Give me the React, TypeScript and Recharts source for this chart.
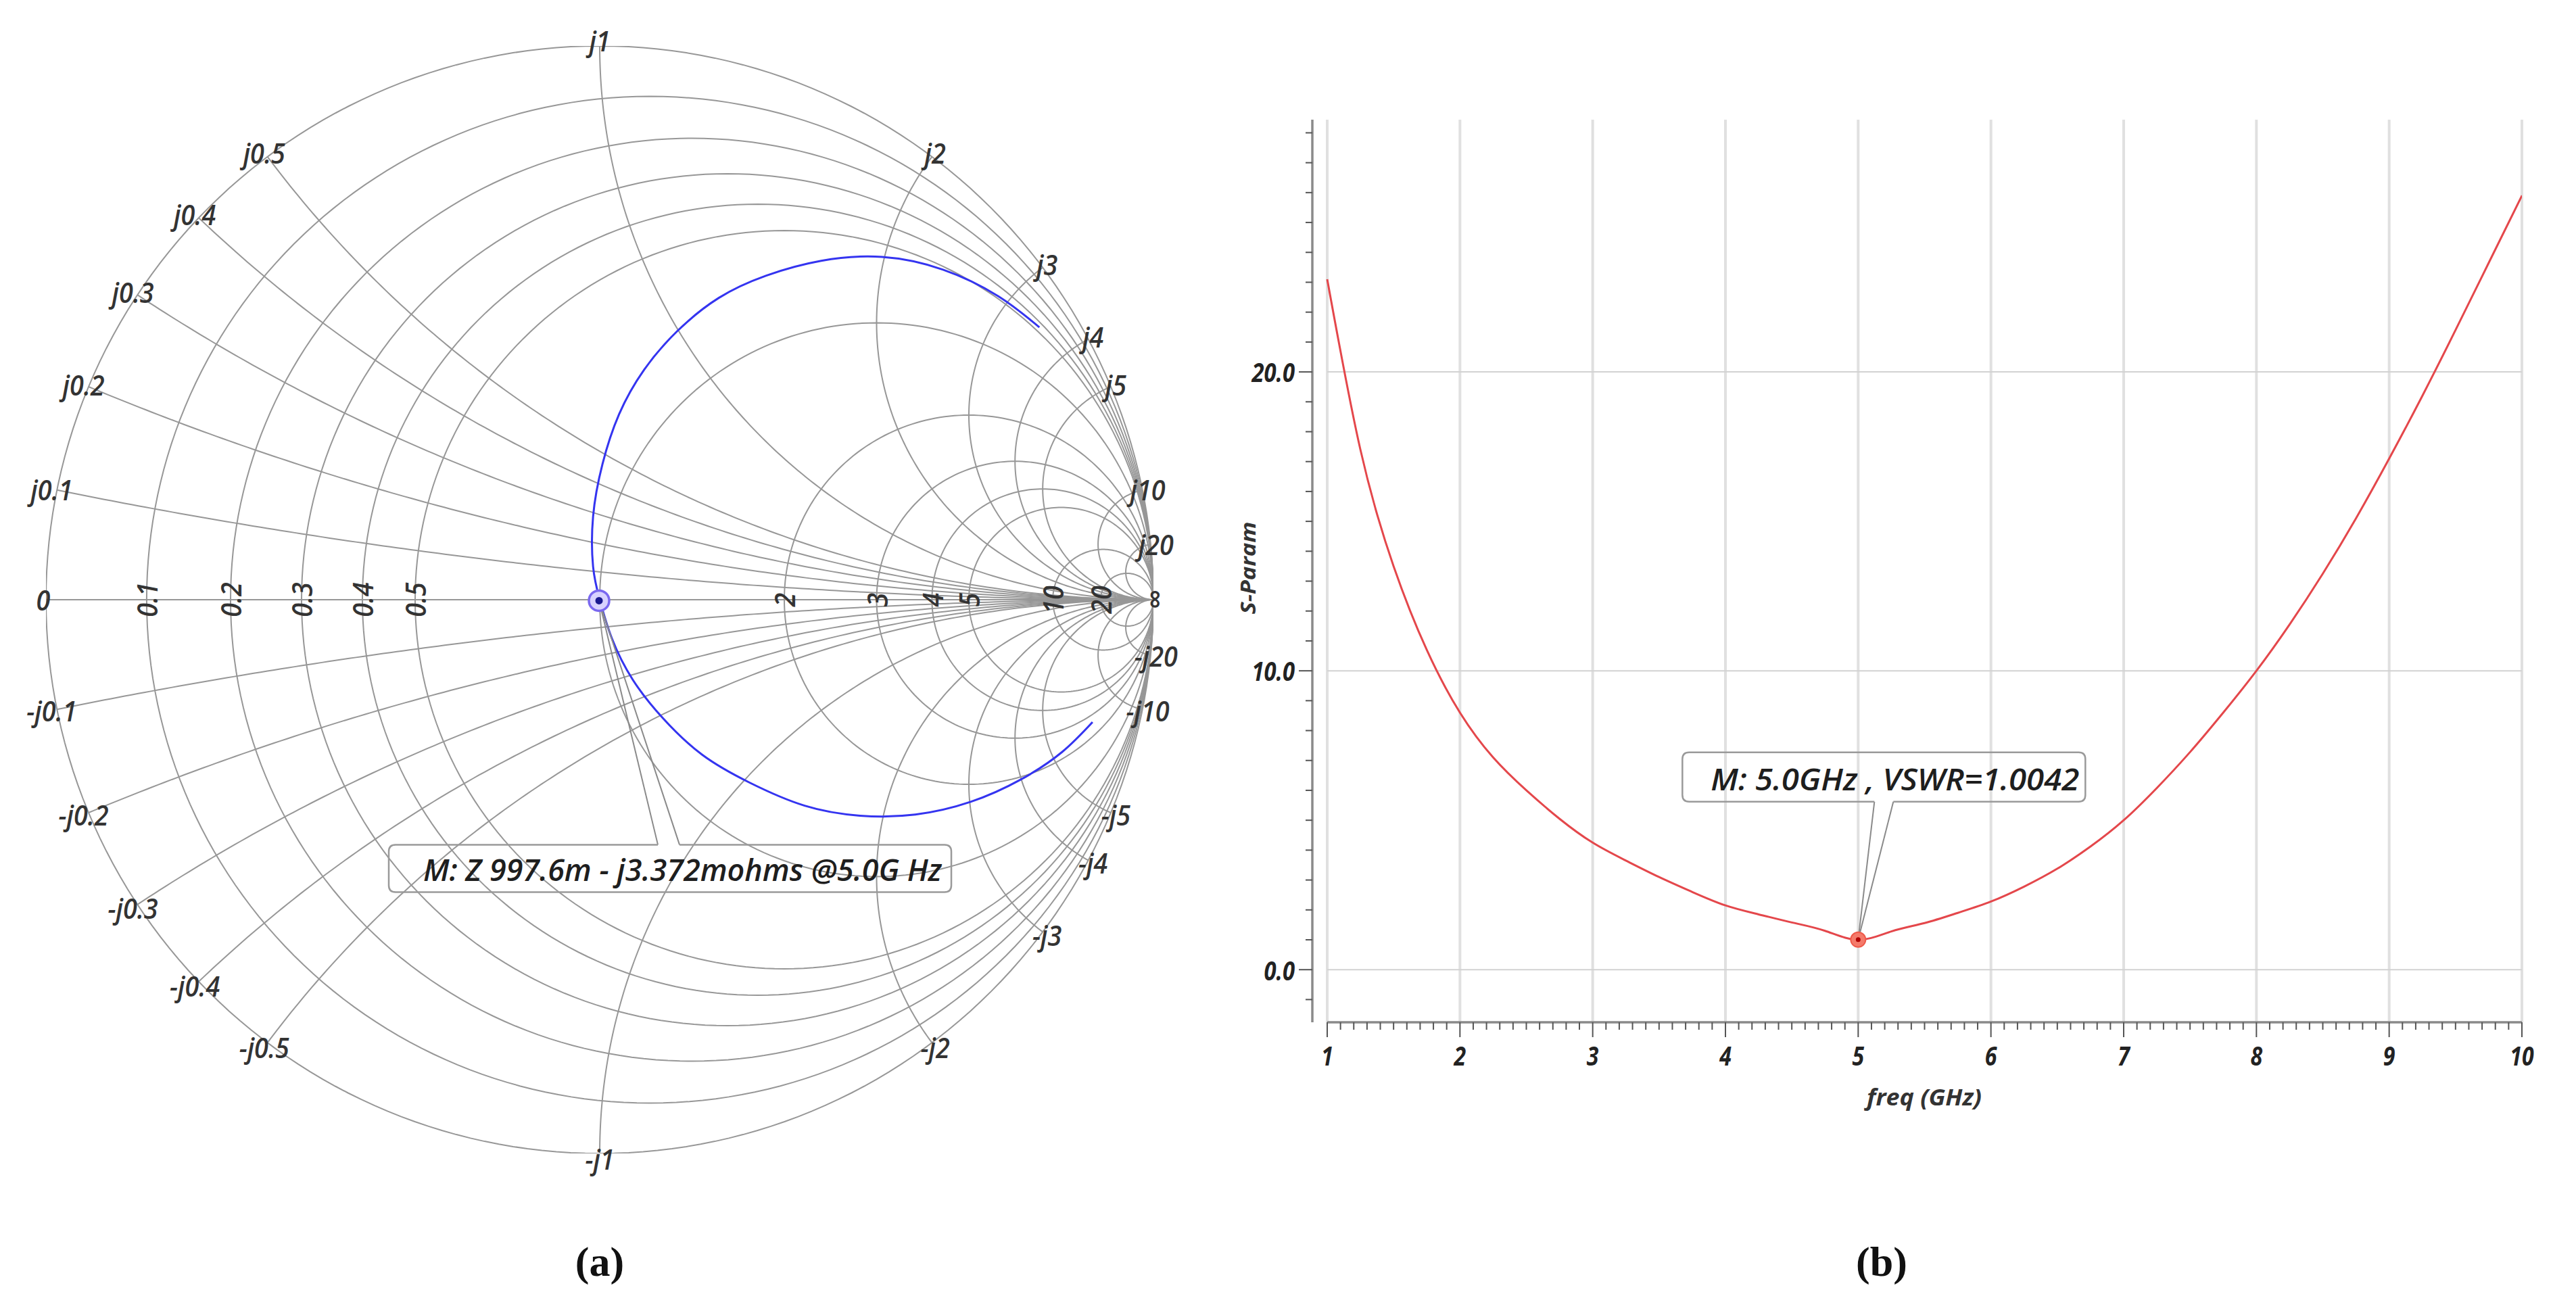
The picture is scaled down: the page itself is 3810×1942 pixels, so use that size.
import React from 'react'
import { LineChart, Line, XAxis, YAxis, ReferenceLine, ReferenceDot } from 'recharts'

// ---------- (a) Smith chart ----------
const RESISTANCE = [0, 0.1, 0.2, 0.3, 0.4, 0.5, 1, 2, 3, 4, 5, 10, 20]
const REACTANCE = [0.1, 0.2, 0.3, 0.4, 0.5, 1, 2, 3, 4, 5, 10, 20]
const RESISTANCE_LABELS = [0.1, 0.2, 0.3, 0.4, 0.5, 2, 3, 4, 5, 10, 20]

// impedance trace, as reflection coefficient (re, im)
const TRACE_RE = [0.794, 0.72, 0.62, 0.51, 0.40, 0.30, 0.215, 0.14, 0.08, 0.035, 0.005, -0.012, -0.012, 0, 0.022, 0.06, 0.115, 0.185, 0.27, 0.37, 0.47, 0.57, 0.67, 0.76, 0.835, 0.89]
const TRACE_IM = [0.492, 0.548, 0.596, 0.619, 0.612, 0.585, 0.545, 0.485, 0.415, 0.335, 0.245, 0.15, 0.06, 0, -0.07, -0.145, -0.215, -0.28, -0.33, -0.372, -0.39, -0.388, -0.365, -0.325, -0.275, -0.221]

const MARKER_Z = { r: 0.9976, x: -0.003372 }
const MARKER_A_TEXT = 'M: Z 997.6m - j3.372mohms @5.0G Hz'

// ---------- (b) VSWR ----------
const FREQ = [1, 1.25, 1.5, 1.75, 2, 2.25, 2.5, 2.75, 3, 3.25, 3.5, 3.75, 4, 4.25, 4.5, 4.75, 5, 5.25, 5.5, 5.75, 6, 6.25, 6.5, 6.75, 7, 7.25, 7.5, 7.75, 8, 8.25, 8.5, 8.75, 9, 9.25, 9.5, 9.75, 10]
const VSWR = [23.1, 17.4, 13.5, 10.7, 8.6, 7.1, 6.0, 5.05, 4.25, 3.65, 3.1, 2.6, 2.15, 1.85, 1.58, 1.3, 1.0, 1.28, 1.56, 1.9, 2.28, 2.78, 3.38, 4.12, 5.0, 6.08, 7.28, 8.6, 10.0, 11.55, 13.25, 15.1, 17.1, 19.2, 21.4, 23.65, 25.9]
const FREQ_TICKS = [1, 2, 3, 4, 5, 6, 7, 8, 9, 10]
const VSWR_TICKS = [0, 10, 20]
const MARKER_B = { f: 5, vswr: 1.0042 }
const MARKER_B_TEXT = 'M: 5.0GHz , VSWR=1.0042'

const FONT = '"Open Sans", "DejaVu Sans", sans-serif'
const GRID = '#979797'

function gamma(r: number, x: number) {
  const den = (r + 1) * (r + 1) + x * x
  return { u: (r * r + x * x - 1) / den, v: (2 * x) / den }
}

function resistanceCircle(r: number) {
  const c = r / (1 + r)
  const rad = 1 / (1 + r)
  return Array.from({ length: 241 }, (_, i) => {
    const t = (i / 240) * Math.PI * 2
    return { u: c + rad * Math.cos(t), v: rad * Math.sin(t) }
  })
}

function reactanceArc(x: number) {
  const ax = Math.abs(x)
  const rad = 1 / ax
  let a0 = Math.atan2((ax * ax - 1) / ax, -2)
  if (a0 < 0) a0 += Math.PI * 2
  const a1 = Math.PI * 1.5
  return Array.from({ length: 161 }, (_, i) => {
    const a = a0 + ((a1 - a0) * i) / 160
    const v = 1 / ax + rad * Math.sin(a)
    return { u: 1 + rad * Math.cos(a), v: x > 0 ? v : -v }
  })
}

const fmt = (n: number) => String(n)

// rounded box with a gap for the pointer on one side
function calloutPath(l: number, t: number, r: number, b: number, g1: number, g2: number, side: 'top' | 'bottom') {
  const k = 10
  if (side === 'top') {
    return `M${g2},${t} L${r - k},${t} Q${r},${t} ${r},${t + k} L${r},${b - k} Q${r},${b} ${r - k},${b} L${l + k},${b} Q${l},${b} ${l},${b - k} L${l},${t + k} Q${l},${t} ${l + k},${t} L${g1},${t}`
  }
  return `M${g1},${b} L${l + k},${b} Q${l},${b} ${l},${b - k} L${l},${t + k} Q${l},${t} ${l + k},${t} L${r - k},${t} Q${r},${t} ${r},${t + k} L${r},${b - k} Q${r},${b} ${r - k},${b} L${g2},${b}`
}

const labelStyle = { fontFamily: FONT, fontStyle: 'italic' as const, fontWeight: 600, fontSize: 42, fill: '#333' }

function SmithChart() {
  const trace = TRACE_RE.map((u, i) => ({ u, v: TRACE_IM[i] }))
  const m = gamma(MARKER_Z.r, MARKER_Z.x)
  const xLabels = REACTANCE.flatMap(x => [x, -x])

  return (
    <LineChart width={1774} height={1774} margin={{ top: 68, right: 68, bottom: 68, left: 68 }}>
      <XAxis dataKey="u" type="number" domain={[-1, 1]} allowDataOverflow hide />
      <YAxis dataKey="v" type="number" domain={[-1, 1]} allowDataOverflow hide />
      <Line data={[{ u: -1, v: 0 }, { u: 1, v: 0 }]} dataKey="v" stroke={GRID} strokeWidth={2} dot={false} activeDot={false} isAnimationActive={false} />
      {RESISTANCE.map(r => (
        <Line key={`r${r}`} data={resistanceCircle(r)} dataKey="v" stroke={GRID} strokeWidth={2} dot={false} activeDot={false} isAnimationActive={false} />
      ))}
      {xLabels.map(x => (
        <Line key={`x${x}`} data={reactanceArc(x)} dataKey="v" stroke={GRID} strokeWidth={2} dot={false} activeDot={false} isAnimationActive={false} />
      ))}
      <Line data={trace} dataKey="v" type="natural" stroke="#3434f0" strokeWidth={3} dot={false} activeDot={false} isAnimationActive={false} />

      <ReferenceDot x={-1} y={0} ifOverflow="visible" shape={(p: any) => (
        <text transform={`translate(${p.cx - 4},${p.cy}) scale(0.9,1)`} textAnchor="middle" dominantBaseline="central" style={labelStyle}>0</text>
      )} />
      {RESISTANCE_LABELS.map(r => (
        <ReferenceDot key={`rl${r}`} x={gamma(r, 0).u} y={0} ifOverflow="visible" shape={(p: any) => (
          <text transform={`translate(${p.cx},${p.cy}) rotate(-90) scale(0.9,1)`} textAnchor="middle" dominantBaseline="central" style={labelStyle}>{fmt(r)}</text>
        )} />
      ))}
      <ReferenceDot x={1} y={0} ifOverflow="visible" shape={(p: any) => (
        <text transform={`translate(${p.cx},${p.cy}) rotate(-90)`} textAnchor="middle" dominantBaseline="central" style={labelStyle}>∞</text>
      )} />
      {xLabels.map(x => {
        const g = gamma(0, x)
        return (
          <ReferenceDot key={`xl${x}`} x={g.u} y={g.v} ifOverflow="visible" shape={(p: any) => (
            <text transform={`translate(${p.cx + g.u * 8},${p.cy - g.v * 8}) scale(0.9,1)`} textAnchor="middle" dominantBaseline="central" style={labelStyle}>
              {x > 0 ? `j${fmt(x)}` : `-j${fmt(-x)}`}
            </text>
          )} />
        )
      })}

      <ReferenceDot x={m.u} y={m.v} ifOverflow="visible" shape={(p: any) => {
        const { cx, cy } = p
        return (
          <g>
            <line x1={cx} y1={cy} x2={cx + 87} y2={cy + 361} stroke="#8a8a8a" strokeWidth={2} />
            <line x1={cx} y1={cy} x2={cx + 119} y2={cy + 361} stroke="#8a8a8a" strokeWidth={2} />
            <path d={calloutPath(cx - 311, cy + 361, cx + 521, cy + 431, cx + 87, cx + 119, 'top')} fill="none" stroke="#9a9a9a" strokeWidth={2.5} />
            <text x={cx - 260} y={cy + 415} textLength={767} lengthAdjust="spacingAndGlyphs" style={{ ...labelStyle, fontSize: 46, fill: '#1e1e1e' }}>{MARKER_A_TEXT}</text>
            <circle cx={cx} cy={cy} r={15} fill="#d8d2ff" stroke="#7a68f0" strokeWidth={3.5} />
            <circle cx={cx} cy={cy} r={5.5} fill="#1a1a90" />
          </g>
        )
      }} />
    </LineChart>
  )
}

function FreqTick(props: any) {
  const { x, y, payload } = props
  const v = payload.value
  const major = Math.abs(v - Math.round(v)) < 1e-6
  return (
    <g>
      <line x1={x} x2={x} y1={y} y2={y + (major ? 22 : 11)} stroke="#555" strokeWidth={2} />
      {major && (
        <text transform={`translate(${x},${y + 49}) scale(0.8,1)`} textAnchor="middle" dominantBaseline="central"
          style={{ fontFamily: FONT, fontStyle: 'italic', fontWeight: 700, fontSize: 40, fill: '#222' }}>{Math.round(v)}</text>
      )}
    </g>
  )
}

function VswrTick(props: any) {
  const { x, y, payload } = props
  const v = payload.value
  const major = VSWR_TICKS.includes(v)
  return (
    <g>
      <line x1={x} x2={x - (major ? 20 : 10)} y1={y} y2={y} stroke="#555" strokeWidth={2} />
      {major && (
        <text transform={`translate(${x - 26},${y}) scale(0.82,1)`} textAnchor="end" dominantBaseline="central"
          style={{ fontFamily: FONT, fontStyle: 'italic', fontWeight: 700, fontSize: 40, fill: '#222' }}>{v.toFixed(1)}</text>
      )}
    </g>
  )
}

function VswrChart() {
  const data = FREQ.map((f, i) => ({ f, vswr: VSWR[i] }))
  const xMinor = Array.from({ length: 91 }, (_, i) => Math.round((FREQ_TICKS[0] + i * 0.1) * 10) / 10)
  const yMinor = Array.from({ length: 30 }, (_, i) => i - 1)
  const yMin = -1.76

  return (
    <LineChart width={2040} height={1560} data={data} margin={{ top: 77, right: 70, left: 0, bottom: 0 }}>
      <XAxis dataKey="f" type="number" domain={[0.888, 10]} allowDataOverflow ticks={xMinor} interval={0}
        tick={(p: any) => <FreqTick {...p} />} tickLine={false} axisLine={false} tickSize={0} tickMargin={0} height={148} />
      <YAxis type="number" domain={[yMin, 28.44]} allowDataOverflow ticks={yMinor} interval={0}
        tick={(p: any) => <VswrTick {...p} />} tickLine={false} axisLine={{ stroke: '#8a8a8a', strokeWidth: 3.5 }}
        tickSize={0} tickMargin={0} width={181} />
      {FREQ_TICKS.map(f => (
        <ReferenceLine key={`gx${f}`} x={f} stroke="#e0e0e0" strokeWidth={4} />
      ))}
      {VSWR_TICKS.map(v => (
        <ReferenceLine key={`gy${v}`} segment={[{ x: 1, y: v }, { x: 10, y: v }]} stroke="#d2d2d2" strokeWidth={2} />
      ))}
      <ReferenceLine segment={[{ x: 1, y: yMin }, { x: 10, y: yMin }]} ifOverflow="visible" stroke="#8a8a8a" strokeWidth={3.5} />
      <Line dataKey="vswr" type="natural" stroke="#e4474b" strokeWidth={3} dot={false} activeDot={false} isAnimationActive={false} />
      <ReferenceDot x={MARKER_B.f} y={MARKER_B.vswr} ifOverflow="visible" shape={(p: any) => {
        const { cx, cy } = p
        return (
          <g>
            <line x1={cx} y1={cy} x2={cx + 24} y2={cy - 204} stroke="#8a8a8a" strokeWidth={2} />
            <line x1={cx} y1={cy} x2={cx + 52} y2={cy - 204} stroke="#8a8a8a" strokeWidth={2} />
            <path d={calloutPath(cx - 260, cy - 277, cx + 336, cy - 204, cx + 24, cx + 52, 'bottom')} fill="none" stroke="#9a9a9a" strokeWidth={2.5} />
            <text x={cx - 218} y={cy - 221} textLength={545} lengthAdjust="spacingAndGlyphs"
              style={{ fontFamily: FONT, fontStyle: 'italic', fontWeight: 600, fontSize: 46, fill: '#1e1e1e' }}>{MARKER_B_TEXT}</text>
            <circle cx={cx} cy={cy} r={11} fill="#f47a6a" stroke="#ef5a4a" strokeWidth={2} />
            <circle cx={cx} cy={cy} r={3.5} fill="#b00000" />
          </g>
        )
      }} />
    </LineChart>
  )
}

export default function App() {
  const title = { fontFamily: FONT, fontStyle: 'italic' as const, fontWeight: 700, fill: '#333' }
  return (
    <div style={{ position: 'absolute', left: 0, top: 0, width: 3810, height: 1942, background: '#fff', overflow: 'hidden' }}>
      <div style={{ position: 'absolute', left: 0, top: 0 }}>
        <SmithChart />
      </div>
      <div style={{ position: 'absolute', left: 1760, top: 100 }}>
        <VswrChart />
      </div>
      <svg width={3810} height={1942} style={{ position: 'absolute', left: 0, top: 0, pointerEvents: 'none' }}>
        <text transform="translate(1845,840) rotate(-90)" textAnchor="middle" dominantBaseline="central" textLength={137}
          lengthAdjust="spacingAndGlyphs" style={{ ...title, fontSize: 30 }}>S-Param</text>
        <text x={2846} y={1622} textAnchor="middle" dominantBaseline="central" textLength={170}
          lengthAdjust="spacingAndGlyphs" style={{ ...title, fontSize: 34 }}>freq (GHz)</text>
        <text x={887} y={1866} textAnchor="middle" dominantBaseline="central"
          style={{ fontFamily: '"Liberation Serif", serif', fontWeight: 700, fontSize: 62, fill: '#111' }}>(a)</text>
        <text x={2783} y={1866} textAnchor="middle" dominantBaseline="central"
          style={{ fontFamily: '"Liberation Serif", serif', fontWeight: 700, fontSize: 62, fill: '#111' }}>(b)</text>
      </svg>
    </div>
  )
}
